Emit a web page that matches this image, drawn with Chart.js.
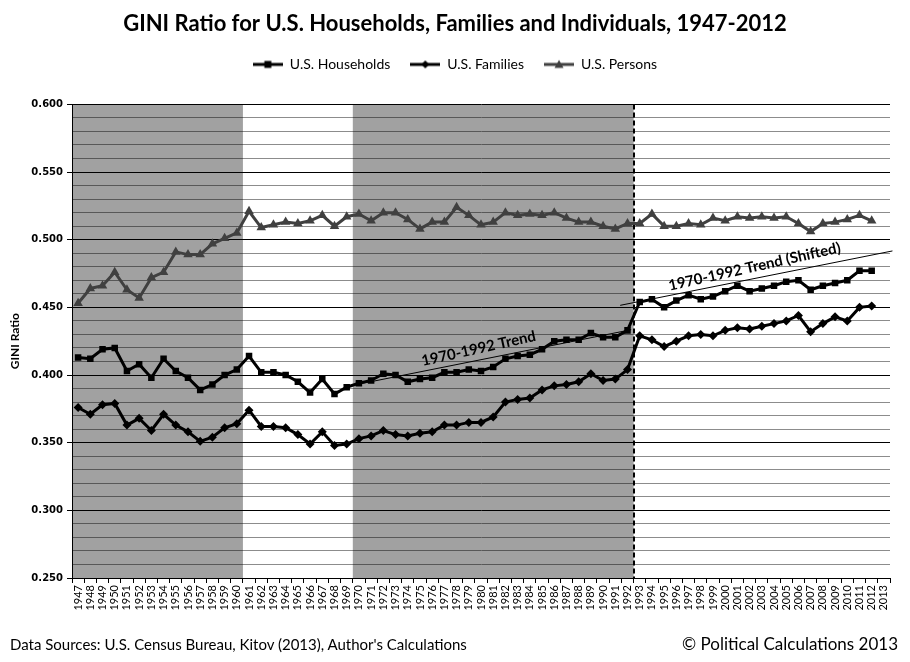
<!DOCTYPE html>
<html>
<head>
<meta charset="utf-8">
<title>GINI Ratio 1947-2012</title>
<script src="https://cdn.jsdelivr.net/npm/chart.js@4.4.1/dist/chart.umd.min.js"></script>
<style>
    html, body { margin: 0; padding: 0; background: #fff; }
    #wrap { position: relative; width: 910px; height: 662px; }
    .note { position: absolute; font-family: Lato, sans-serif; color: #000; white-space: nowrap; }
    #sources { left: 10px; top: 635px; font-size: 15px; }
    #credit { right: 12px; top: 633px; font-size: 17px; }
</style>
</head>
<body>
<div id="wrap">
    <canvas id="giniChart" width="910" height="662"></canvas>
    <div class="note" id="sources">Data Sources: U.S. Census Bureau, Kitov (2013), Author's Calculations</div>
    <div class="note" id="credit">© Political Calculations 2013</div>
</div>
<script>
const years = [
    "1947", "1948", "1949", "1950", "1951", "1952", "1953", "1954", "1955", "1956",
    "1957", "1958", "1959", "1960", "1961", "1962", "1963", "1964", "1965", "1966",
    "1967", "1968", "1969", "1970", "1971", "1972", "1973", "1974", "1975", "1976",
    "1977", "1978", "1979", "1980", "1981", "1982", "1983", "1984", "1985", "1986",
    "1987", "1988", "1989", "1990", "1991", "1992", "1993", "1994", "1995", "1996",
    "1997", "1998", "1999", "2000", "2001", "2002", "2003", "2004", "2005", "2006",
    "2007", "2008", "2009", "2010", "2011", "2012", "2013",
];

const households = [
    0.413, 0.412, 0.419, 0.420, 0.403, 0.408, 0.398, 0.412, 0.403, 0.398,
    0.389, 0.393, 0.400, 0.404, 0.414, 0.402, 0.402, 0.400, 0.395, 0.387,
    0.397, 0.386, 0.391, 0.394, 0.396, 0.401, 0.400, 0.395, 0.397, 0.398,
    0.402, 0.402, 0.404, 0.403, 0.406, 0.412, 0.414, 0.415, 0.419, 0.425,
    0.426, 0.426, 0.431, 0.428, 0.428, 0.433, 0.454, 0.456, 0.450, 0.455,
    0.459, 0.456, 0.458, 0.462, 0.466, 0.462, 0.464, 0.466, 0.469, 0.470,
    0.463, 0.466, 0.468, 0.470, 0.477, 0.477,
];

const families = [
    0.376, 0.371, 0.378, 0.379, 0.363, 0.368, 0.359, 0.371, 0.363, 0.358,
    0.351, 0.354, 0.361, 0.364, 0.374, 0.362, 0.362, 0.361, 0.356, 0.349,
    0.358, 0.348, 0.349, 0.353, 0.355, 0.359, 0.356, 0.355, 0.357, 0.358,
    0.363, 0.363, 0.365, 0.365, 0.369, 0.380, 0.382, 0.383, 0.389, 0.392,
    0.393, 0.395, 0.401, 0.396, 0.397, 0.404, 0.429, 0.426, 0.421, 0.425,
    0.429, 0.430, 0.429, 0.433, 0.435, 0.434, 0.436, 0.438, 0.440, 0.444,
    0.432, 0.438, 0.443, 0.440, 0.450, 0.451,
];

const persons = [
    0.453, 0.464, 0.466, 0.476, 0.463, 0.457, 0.472, 0.476, 0.491, 0.489,
    0.489, 0.497, 0.501, 0.505, 0.521, 0.509, 0.511, 0.513, 0.512, 0.514,
    0.518, 0.510, 0.517, 0.519, 0.514, 0.520, 0.520, 0.515, 0.508, 0.513,
    0.513, 0.524, 0.518, 0.511, 0.513, 0.520, 0.518, 0.519, 0.518, 0.520,
    0.516, 0.513, 0.513, 0.510, 0.508, 0.512, 0.512, 0.519, 0.510, 0.510,
    0.512, 0.511, 0.516, 0.514, 0.517, 0.516, 0.517, 0.516, 0.517, 0.512,
    0.506, 0.512, 0.513, 0.515, 0.518, 0.514,
];

// trend lines (year, ratio)
const trendYears = [1969, 1992.3];
const trendValues = [0.3915, 0.4335];
const shiftedYears = [1991.4, 2013.7];
const shiftedValues = [0.4515, 0.4917];

// grey bands and the dashed break
const shadedSpans = [[1947, 1960], [1970, 1992]];
const breakAfterYear = 1992;

const trendLabels = [
    { text: "1970-1992 Trend", year: 1979.8, value: 0.4195 },
    { text: "1970-1992 Trend (Shifted)", year: 2002.4, value: 0.4800 },
];

const FONT = "Lato, 'Open Sans', sans-serif";

const toPoints = (xs, ys) => xs.map((x, i) => ({ x: x, y: ys[i] }));

// little line-with-marker pictures for the legend
const makeSwatch = (shape, color) => {
    const c = document.createElement("canvas");
    c.width = 30;
    c.height = 12;
    const g = c.getContext("2d");
    g.strokeStyle = color;
    g.fillStyle = color;
    g.lineWidth = 3;
    g.beginPath();
    g.moveTo(0, 6);
    g.lineTo(30, 6);
    g.stroke();
    g.beginPath();
    if (shape === "rect") {
        g.rect(11.5, 2.5, 7, 7);
    } else if (shape === "rectRot") {
        g.moveTo(15, 2);
        g.lineTo(19, 6);
        g.lineTo(15, 10);
        g.lineTo(11, 6);
    } else {
        g.moveTo(15, 1.5);
        g.lineTo(19.5, 9.5);
        g.lineTo(10.5, 9.5);
    }
    g.closePath();
    g.fill();
    return c;
};

const swatches = [
    makeSwatch("rect", "#000"),
    makeSwatch("rectRot", "#000"),
    makeSwatch("triangle", "#404040"),
];

const backdrop = {
    id: "backdrop",
    beforeInit(chart) {
        const fit = chart.legend.fit;
        chart.legend.fit = function () {
            fit.bind(chart.legend)();
            this.height += 23;
        };
    },
    beforeDatasetsDraw(chart) {
        const { ctx, chartArea } = chart;
        const xt = chart.scales.xt;
        ctx.save();
        ctx.fillStyle = "rgba(0, 0, 0, 0.37)";
        shadedSpans.forEach(([from, to]) => {
            const left = xt.getPixelForValue(from - 0.5);
            const right = xt.getPixelForValue(to + 0.5);
            ctx.fillRect(left, chartArea.top, right - left, chartArea.bottom - chartArea.top);
        });
        const bx = Math.round(xt.getPixelForValue(breakAfterYear + 0.5));
        ctx.strokeStyle = "#000";
        ctx.lineWidth = 2;
        ctx.setLineDash([5, 3]);
        ctx.beginPath();
        ctx.moveTo(bx, chartArea.top);
        ctx.lineTo(bx, chartArea.bottom);
        ctx.stroke();
        ctx.restore();
    },
    afterDatasetsDraw(chart) {
        const { ctx } = chart;
        const xt = chart.scales.xt;
        const y = chart.scales.y;
        ctx.save();
        ctx.font = "bold 15px " + FONT;
        ctx.fillStyle = "#000";
        ctx.textAlign = "center";
        ctx.textBaseline = "middle";
        trendLabels.forEach((label) => {
            ctx.save();
            ctx.translate(xt.getPixelForValue(label.year), y.getPixelForValue(label.value));
            ctx.rotate(-0.22);
            ctx.fillText(label.text, 0, 0);
            ctx.restore();
        });
        ctx.restore();
    },
};

const isMajor = (v) => Math.round(v * 1000) % 50 === 0;

new Chart(document.getElementById("giniChart"), {
    type: "line",
    data: {
        labels: years,
        datasets: [
            {
                label: "U.S. Households",
                data: households,
                borderColor: "#000",
                backgroundColor: "#000",
                borderWidth: 3,
                pointStyle: "rect",
                pointRadius: 4.6,
                pointBorderWidth: 0,
            },
            {
                label: "U.S. Families",
                data: families,
                borderColor: "#000",
                backgroundColor: "#000",
                borderWidth: 3,
                pointStyle: "rectRot",
                pointRadius: 4.5,
                pointBorderWidth: 0,
            },
            {
                label: "U.S. Persons",
                data: persons,
                borderColor: "#404040",
                backgroundColor: "#404040",
                borderWidth: 3,
                pointStyle: "triangle",
                pointRadius: 5.5,
                pointBorderWidth: 0,
            },
            {
                label: "1970-1992 Trend",
                data: toPoints(trendYears, trendValues),
                xAxisID: "xt",
                borderColor: "#000",
                borderWidth: 1,
                pointRadius: 0,
            },
            {
                label: "1970-1992 Trend (Shifted)",
                data: toPoints(shiftedYears, shiftedValues),
                xAxisID: "xt",
                borderColor: "#000",
                borderWidth: 1,
                pointRadius: 0,
                clip: false,
            },
        ],
    },
    options: {
        responsive: false,
        animation: false,
        events: [],
        layout: { padding: { left: 0, right: 0, top: 0, bottom: 44 } },
        plugins: {
            title: {
                display: true,
                text: "GINI Ratio for U.S. Households, Families and Individuals, 1947-2012",
                color: "#000",
                font: { family: FONT, size: 22, weight: "bold" },
                padding: { top: 11, bottom: 0 },
            },
            legend: {
                labels: {
                    color: "#000",
                    font: { family: FONT, size: 14 },
                    usePointStyle: true,
                    pointStyleWidth: 30,
                    boxHeight: 12,
                    padding: 20,
                    generateLabels(chart) {
                        return Chart.defaults.plugins.legend.labels
                            .generateLabels(chart)
                            .filter((item) => item.datasetIndex < 3)
                            .map((item) => ({ ...item, pointStyle: swatches[item.datasetIndex] }));
                    },
                },
            },
            tooltip: { enabled: false },
        },
        scales: {
            x: {
                type: "category",
                offset: true,
                grid: {
                    offset: true,
                    drawOnChartArea: false,
                    color: "#000",
                    tickLength: 5,
                },
                border: { color: "#000" },
                ticks: {
                    autoSkip: false,
                    minRotation: 90,
                    maxRotation: 90,
                    color: "#000",
                    padding: 2,
                    font: { family: FONT, size: 11 },
                },
                afterFit(scale) {
                    scale.height = 40;
                },
            },
            xt: {
                type: "linear",
                axis: "x",
                display: false,
                min: 1946.5,
                max: 2013.5,
            },
            y: {
                min: 0.25,
                max: 0.6,
                grid: {
                    color: (c) => (isMajor(c.tick.value) ? "#000" : "#8c8c8c"),
                    tickColor: (c) => (isMajor(c.tick.value) ? "#000" : "rgba(0,0,0,0)"),
                    tickLength: 5,
                },
                border: { color: "#000" },
                ticks: {
                    stepSize: 0.01,
                    autoSkip: false,
                    color: "#000",
                    padding: 4,
                    font: { family: "'DejaVu Sans', sans-serif", size: 10, weight: "bold" },
                    callback: (v) => (isMajor(v) ? v.toFixed(3) : ""),
                },
                title: {
                    display: true,
                    text: "GINI Ratio",
                    color: "#000",
                    font: { family: FONT, size: 12, weight: "bold" },
                    padding: { top: 8, bottom: 0 },
                },
                afterFit(scale) {
                    scale.width = 72;
                },
            },
            // empty strip on the right so the title and legend centre on the page
            gutter: {
                type: "linear",
                axis: "y",
                position: "right",
                grid: { display: false },
                border: { display: false },
                ticks: { display: false },
                afterFit(scale) {
                    scale.width = 20;
                },
            },
        },
    },
    plugins: [backdrop],
});
</script>
</body>
</html>
